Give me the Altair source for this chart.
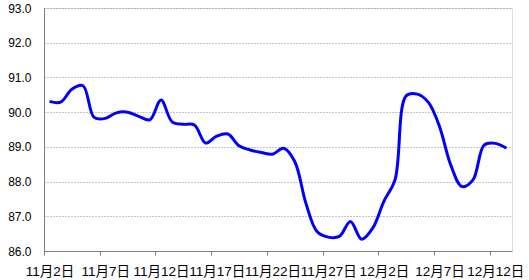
import altair as alt
import pandas as pd

dates = [f"11月{d}日" for d in range(2, 31)] + [f"12月{d}日" for d in range(1, 14)]
values = [90.31, 90.29, 90.66, 90.76, 89.85, 89.82, 89.98, 90.00, 89.88, 89.78,
          90.35, 89.72, 89.65, 89.63, 89.11, 89.31, 89.37, 89.03, 88.91, 88.84,
          88.79, 88.96, 88.58, 87.38, 86.56, 86.40, 86.42, 86.85, 86.34, 86.66,
          87.43, 88.05, 90.47, 90.52, 90.28, 89.58, 88.48, 87.86, 88.05, 89.05,
          89.10, 88.96]
y_ticks = [86, 87, 88, 89, 90, 91, 92, 93]

df = pd.DataFrame({"idx": [i + 0.5 for i in range(len(dates))],
                   "date": dates, "value": values})

tick_vals = list(range(0, len(dates), 5))
label_arr = "[" + ",".join(f"'{dates[v]}'" for v in tick_vals) + "]"

FONT = "Liberation Sans, Arial, Noto Sans CJK SC"

chart = alt.Chart(df).mark_line(
    color="#0000FF", strokeWidth=3, interpolate="catmull-rom"
).encode(
    x=alt.X("idx:Q",
            scale=alt.Scale(domain=[0, len(dates)], nice=False, zero=False),
            axis=alt.Axis(values=tick_vals, labelExpr=f"{label_arr}[datum.value/5]",
                          title=None, grid=False, tickSize=4, tickColor="#808080",
                          domainColor="#808080", labelOffset=5.6, labelPadding=9,
                          labelFontSize=13.5, labelColor="#000000", labelFont=FONT,
                          labelOverlap=False, labelBound=False, labelFlush=False)),
    y=alt.Y("value:Q",
            scale=alt.Scale(domain=[86, 93], nice=False, zero=False),
            axis=alt.Axis(values=y_ticks, format=".1f", title=None, tickSize=0,
                          labelPadding=13, labelFontSize=12, labelColor="#000000",
                          labelFont=FONT, domainColor="#808080",
                          gridColor="#888888", gridDash=[1, 2], gridWidth=1)),
).properties(
    width=468, height=243,
    autosize=alt.AutoSizeParams(type="none"),
    padding={"left": 44, "top": 8, "right": 17, "bottom": 29},
).configure_view(stroke=None).configure(background="white")

chart.save("out.html", embed_options={"renderer": "svg", "actions": False})
